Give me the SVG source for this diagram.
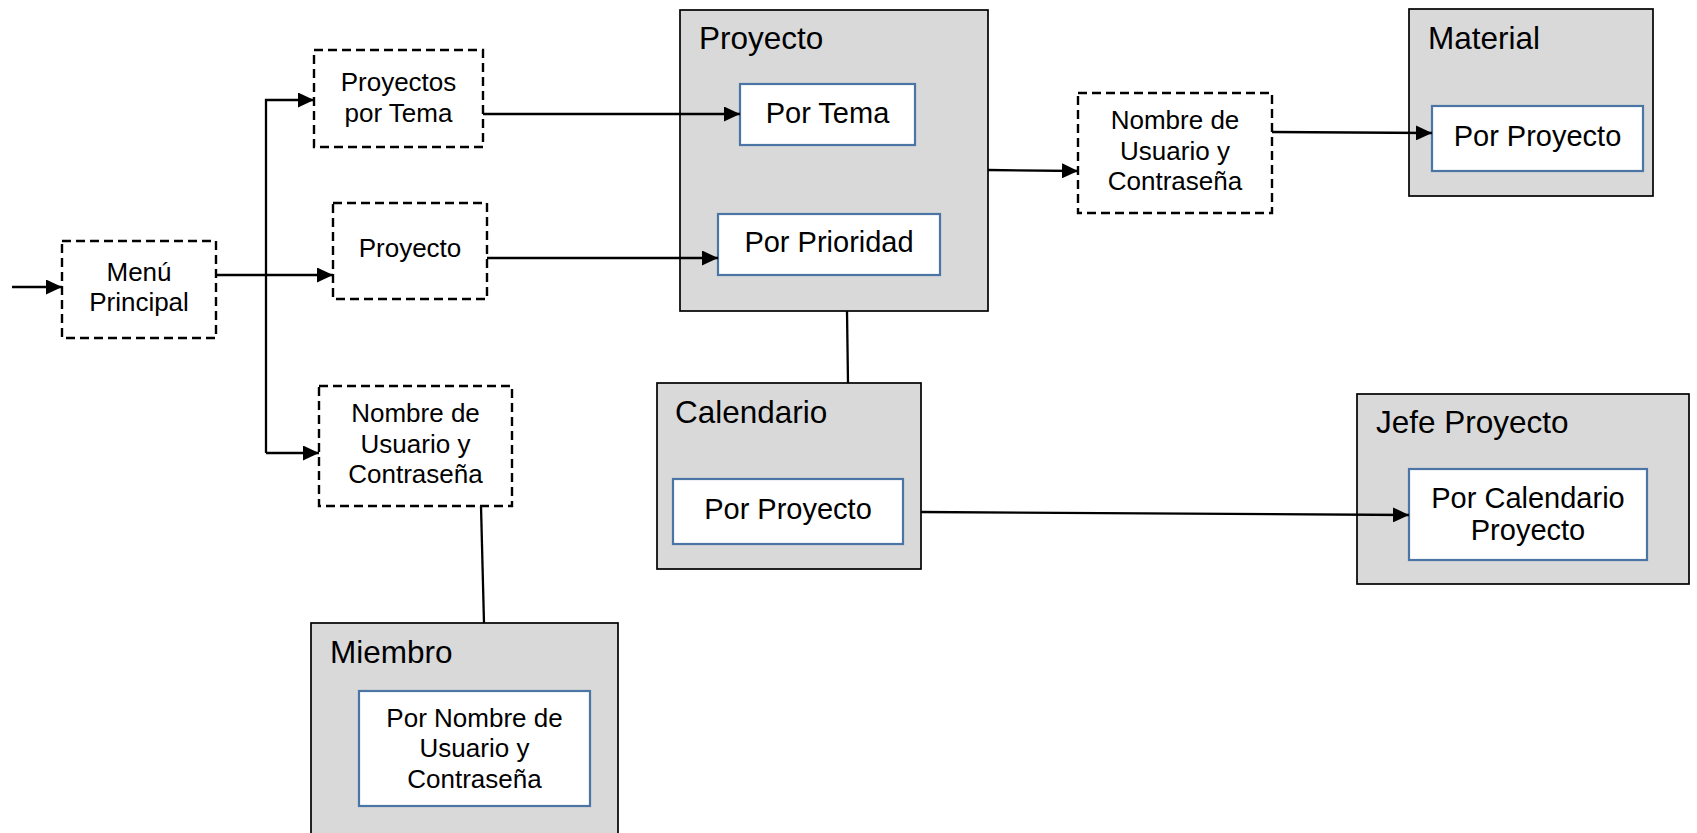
<svg xmlns="http://www.w3.org/2000/svg" width="1697" height="833" viewBox="0 0 1697 833">
<style>
text{font-family:"Liberation Sans",Arial,sans-serif;fill:#000}
.dash{fill:#fff;stroke:#000;stroke-width:2.4;stroke-dasharray:9,5}
.grp{fill:#d9d9d9;stroke:#000;stroke-width:1.7}
.inner{fill:#fff;stroke:#4a75a5;stroke-width:2.2}
.t{font-size:31.5px}
.l{font-size:29px;text-anchor:middle}
.s{font-size:26px;text-anchor:middle}
.c{fill:none;stroke:#000;stroke-width:2.3}
</style>
<defs>
<marker id="ah" markerUnits="userSpaceOnUse" markerWidth="16" markerHeight="15" refX="16" refY="7.5" orient="auto">
<path d="M0,0 L16,7.5 L0,15 z" fill="#000"/>
</marker>
</defs>
<rect width="1697" height="833" fill="#fff"/>

<g id="menu">
<rect class="dash" x="62" y="241" width="154" height="97"/>
<text class="s" x="139" y="281">Menú</text>
<text class="s" x="139" y="311">Principal</text>
</g>
<g id="proyectos-tema">
<rect class="dash" x="314" y="50" width="169" height="97"/>
<text class="s" x="398.5" y="91">Proyectos</text>
<text class="s" x="398.5" y="122">por Tema</text>
</g>
<g id="proyecto-dash">
<rect class="dash" x="333" y="203" width="154" height="96"/>
<text class="s" x="410" y="257">Proyecto</text>
</g>
<g id="usuario-izq">
<rect class="dash" x="319" y="386" width="193" height="120"/>
<text class="s" x="415.5" y="422">Nombre de</text>
<text class="s" x="415.5" y="453">Usuario y</text>
<text class="s" x="415.5" y="483">Contraseña</text>
</g>
<g id="usuario-der">
<rect class="dash" x="1078" y="93" width="194" height="120"/>
<text class="s" x="1175" y="129">Nombre de</text>
<text class="s" x="1175" y="160">Usuario y</text>
<text class="s" x="1175" y="190">Contraseña</text>
</g>

<g id="proyecto">
<rect class="grp" x="680" y="10" width="308" height="301"/>
<text class="t" x="699" y="49">Proyecto</text>
<rect class="inner" x="740" y="84" width="175" height="61"/>
<text class="l" x="827.5" y="123">Por Tema</text>
<rect class="inner" x="718" y="214" width="222" height="61"/>
<text class="l" x="829" y="252">Por Prioridad</text>
</g>
<g id="calendario">
<rect class="grp" x="657" y="383" width="264" height="186"/>
<text class="t" x="675" y="423">Calendario</text>
<rect class="inner" x="673" y="479" width="230" height="65"/>
<text class="l" x="788" y="519">Por Proyecto</text>
</g>
<g id="miembro">
<rect class="grp" x="311" y="623" width="307" height="220"/>
<text class="t" x="330" y="663">Miembro</text>
<rect class="inner" x="359" y="691" width="231" height="115"/>
<text class="s" x="474.5" y="727">Por Nombre de</text>
<text class="s" x="474.5" y="757">Usuario y</text>
<text class="s" x="474.5" y="788">Contraseña</text>
</g>
<g id="material">
<rect class="grp" x="1409" y="9" width="244" height="187"/>
<text class="t" x="1428" y="49">Material</text>
<rect class="inner" x="1432" y="106" width="211" height="65"/>
<text class="l" x="1537.5" y="146">Por Proyecto</text>
</g>
<g id="jefe">
<rect class="grp" x="1357" y="394" width="332" height="190"/>
<text class="t" x="1376" y="433">Jefe Proyecto</text>
<rect class="inner" x="1409" y="469" width="238" height="91"/>
<text class="l" x="1528" y="508">Por Calendario</text>
<text class="l" x="1528" y="540">Proyecto</text>
</g>

<g id="connectors">
<line class="c" x1="12" y1="287" x2="62" y2="287" marker-end="url(#ah)"/>
<line class="c" x1="216" y1="275" x2="333" y2="275" marker-end="url(#ah)"/>
<polyline class="c" points="266,453 266,100 314,100" marker-end="url(#ah)"/>
<line class="c" x1="266" y1="453" x2="319" y2="453" marker-end="url(#ah)"/>
<line class="c" x1="483" y1="114" x2="740" y2="114" marker-end="url(#ah)"/>
<line class="c" x1="487" y1="258" x2="718" y2="258" marker-end="url(#ah)"/>
<line class="c" x1="988" y1="170" x2="1078" y2="171" marker-end="url(#ah)"/>
<line class="c" x1="1272" y1="132" x2="1432" y2="133" marker-end="url(#ah)"/>
<line class="c" x1="921" y1="512" x2="1409" y2="515" marker-end="url(#ah)"/>
<line class="c" x1="847" y1="311" x2="848" y2="383"/>
<line class="c" x1="481" y1="506" x2="484" y2="623"/>
</g>
</svg>
